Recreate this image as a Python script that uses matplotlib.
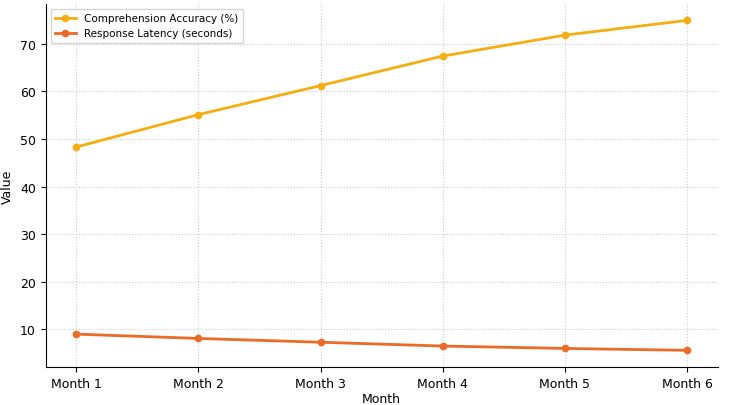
import matplotlib
matplotlib.use('Agg')
from matplotlib import pyplot as plt

months = ['Month 1', 'Month 2', 'Month 3', 'Month 4', 'Month 5', 'Month 6']
accuracy = [48.3, 55.1, 61.2, 67.4, 71.8, 74.9]
latency = [9.0, 8.1, 7.3, 6.5, 6.0, 5.6]

fig, ax = plt.subplots(figsize=(7.36, 4.06), dpi=100)
fig.subplots_adjust(left=0.062, right=0.975, top=0.988, bottom=0.094)
ax.plot(months, accuracy, '-o', color='#f5ae12', lw=2, ms=4.5, label='Comprehension Accuracy (%)')
ax.plot(months, latency, '-o', color='#eb6a26', lw=2, ms=4.5, label='Response Latency (seconds)')
ax.set_xlabel('Month', fontsize=9, labelpad=2)
ax.set_ylabel('Value', fontsize=9, labelpad=4)
ax.tick_params(labelsize=9)
ax.grid(True, ls=':', color='#cccccc', lw=0.8)
for side in ('top', 'right'):
    ax.spines[side].set_visible(False)
ax.legend(loc='upper left', fontsize=7.5)
fig.savefig('out.png')
